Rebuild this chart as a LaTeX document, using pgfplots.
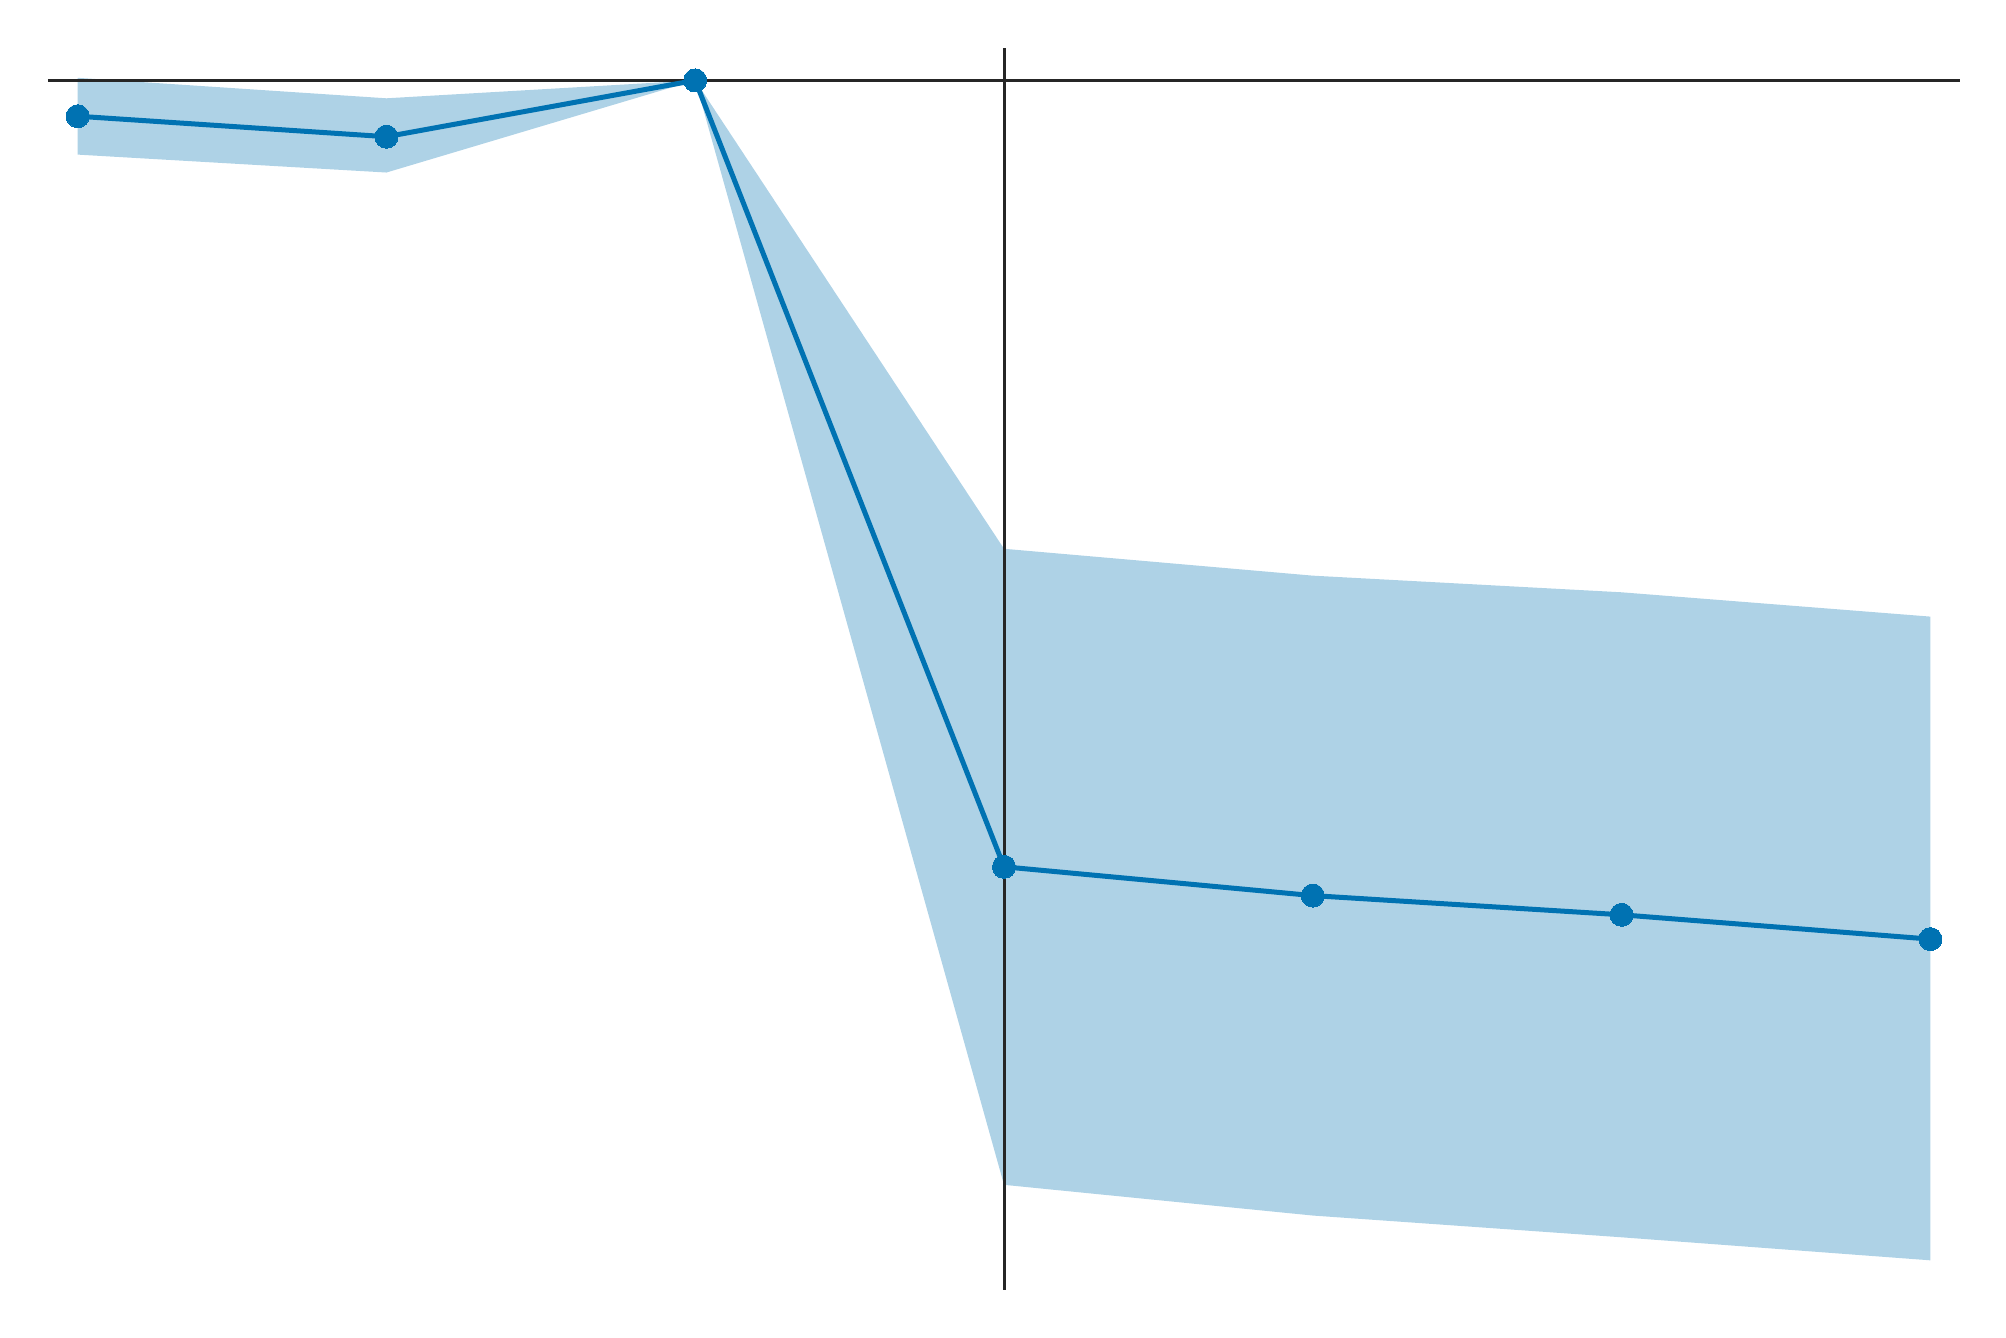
\documentclass[border=0pt]{standalone}
\usepackage{pgfplots}
\pgfplotsset{compat=1.18}
\definecolor{cbblue}{RGB}{0,114,178}
\definecolor{bandblue}{RGB}{174,210,230}
\definecolor{axisgray}{RGB}{38,38,38}
\begin{document}
\begin{tikzpicture}
\begin{axis}[
  name=ax,
  scale only axis,
  width=191.2mm, height=124.2mm,
  xmin=-3.096, xmax=3.096,
  ymin=-9.455, ymax=0.25,
  hide axis,
  clip=false,
]
% confidence band
\addplot[fill=bandblue, draw=none, forget plot] coordinates {
  (-3,0.02) (-2,-0.14) (-1,0) (0,-3.66) (1,-3.87) (2,-4.00) (3,-4.19)
  (3,-9.22) (2,-9.04) (1,-8.87) (0,-8.63) (-1,0) (-2,-0.72) (-3,-0.58)
} -- cycle;
% reference lines
\addplot[axisgray, line width=0.33mm, forget plot] coordinates {(-3.096,0) (3.096,0)};
\addplot[axisgray, line width=0.3mm, forget plot] coordinates {(0,0.25) (0,-9.455)};
% estimates
\addplot[cbblue, line width=0.5mm, mark=*, mark size=1.15mm,
  mark options={solid, fill=cbblue, draw=cbblue, line width=0pt}] coordinates {
  (-3,-0.28) (-2,-0.44) (-1,0) (0,-6.145) (1,-6.37) (2,-6.52) (3,-6.71)
};
\end{axis}
\pgfresetboundingbox
\useasboundingbox ([shift={(-4.8mm,-4.66mm)}]ax.south west) rectangle ([shift={(4.6mm,4.84mm)}]ax.north east);
\end{tikzpicture}
\end{document}
